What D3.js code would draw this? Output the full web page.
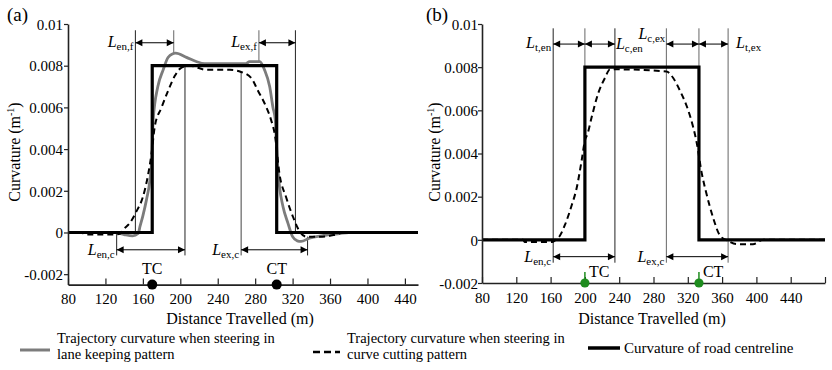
<!DOCTYPE html>
<html>
<head>
<meta charset="utf-8">
<script src="https://cdn.jsdelivr.net/npm/d3@7"></script>
<style>
  body { margin: 0; background: #fff; }
  svg, svg text { font-family: "Liberation Serif", "Tinos", "DejaVu Serif", "Noto Serif", "Times New Roman", serif; fill: #000; }
</style>
</head>
<body>
<svg id="chart" width="832" height="370"></svg>
<script>
const SERIF = '"Liberation Serif", "Tinos", "DejaVu Serif", "Noto Serif", "Times New Roman", serif';

// ---- axis ticks ----
const distTicksA = [80, 120, 160, 200, 240, 280, 320, 360, 400, 440];
const distTicksB = [80, 120, 160, 200, 240, 280, 320, 360, 400, 440, 480];
const distTickLabels = ["80", "120", "160", "200", "240", "280", "320", "360", "400", "440", ""];
const curvTicks = [-0.002, 0, 0.002, 0.004, 0.006, 0.008, 0.01];
const curvTickLabels = ["-0.002", "0", "0.002", "0.004", "0.006", "0.008", "0.01"];

// ---- panel (a): road centreline (m, 1/m) ----
const roadA_s = [80, 170, 170, 303, 303, 454];
const roadA_k = [0, 0, 0.008, 0.008, 0, 0];

// lane keeping trajectory curvature
const laneA_s = [80, 130, 140, 149, 155, 157, 160, 164, 167.5, 169.5, 171, 176, 181.7, 187, 195, 206.6, 217, 226, 250, 270, 274, 285, 290, 295.5, 299, 301.5, 302.6, 304.4, 306, 309.7, 315, 320, 325, 329, 338, 352, 370, 380, 454];
const laneA_k = [0, 0, -0.0001, -0.00016, -0.00005, 0.0003, 0.0008, 0.0016, 0.0025, 0.0035, 0.0054, 0.007, 0.0078, 0.0084, 0.0086, 0.0084, 0.0082, 0.0081, 0.0081, 0.0081, 0.0082, 0.0082, 0.0078, 0.007, 0.006, 0.0054, 0.0044, 0.003, 0.0022, 0.00125, 0.00045, -0.0002, -0.0004, -0.00043, -0.00027, -0.00015, -0.00005, 0, 0];

// curve cutting trajectory curvature
const cutA_s = [80, 95, 98, 130, 136, 139, 146, 153, 160, 165.7, 169.3, 172.8, 180, 187, 194, 201, 210, 228, 253, 265, 276, 283, 290, 297, 301, 306, 313, 320, 327.5, 334.6, 352, 366, 375, 454];
const cutA_k = [0, 0, -0.0001, -0.0001, -0.00005, 0.00013, 0.00045, 0.001, 0.0017, 0.0028, 0.0038, 0.0051, 0.006, 0.0068, 0.0075, 0.0079, 0.008, 0.0078, 0.0078, 0.0077, 0.0074, 0.0068, 0.0062, 0.0054, 0.0047, 0.0028, 0.0017, 0.0008, 0.00005, -0.0002, -0.0002, -0.0001, 0, 0];

// reference lines: distance, upper and lower curvature
const guideA_s = [152, 193, 205, 265, 284, 323, 132, 336];
const guideA_top = [0.0097, 0.0097, 0.008, 0.0077, 0.0097, 0.0097, 0, -0.0002];
const guideA_bot = [0, 0.0086, -0.0011, -0.0011, 0.0082, 0, -0.0011, -0.0011];

// dimension arrows
const arrowA_from = [152, 284, 132, 265];
const arrowA_to = [193, 323, 205, 336];
const arrowA_k = [0.0091, 0.0091, -0.00083, -0.00083];
const arrowA_sub = ["en,f", "ex,f", "en,c", "ex,c"];

// curve points
const pointA_s = [170, 303];
const pointLabels = ["TC", "CT"];

// ---- panel (b) ----
const roadB_s = [80, 200, 200, 333, 333, 480];
const roadB_k = [0, 0, 0.008, 0.008, 0, 0];

const cutB_s = [80, 128, 130, 162, 166, 171, 176.8, 184.6, 190.4, 196.3, 200, 203, 208, 215.6, 223.4, 229.3, 235, 295, 303, 311, 318.7, 326.4, 330.4, 336.2, 342, 349.7, 357.5, 367, 377, 396, 408, 480];
const cutB_k = [0, 0, -0.0001, -0.0001, 0, 0.0002, 0.0007, 0.0016, 0.0024, 0.0037, 0.0046, 0.0049, 0.0057, 0.0068, 0.0075, 0.0079, 0.0079, 0.0078, 0.0075, 0.0069, 0.0062, 0.0052, 0.0045, 0.0031, 0.0021, 0.001, 0.0002, -0.00005, -0.0002, -0.0002, 0, 0];

const guideB_s = [163, 200, 235, 295, 333, 367];
const guideB_top = [0.0098, 0.0098, 0.0098, 0.0098, 0.0098, 0.0098];
const guideB_bot = [-0.00106, 0.008, -0.00106, -0.00106, 0.008, -0.00106];

const arrowB_from = [163, 200, 295, 333, 163, 295];
const arrowB_to = [200, 235, 333, 367, 235, 367];
const arrowB_k = [0.00907, 0.00907, 0.00907, 0.00907, -0.00078, -0.00078];
const arrowB_sub = ["t,en", "c,en", "c,ex", "t,ex", "en,c", "ex,c"];

const pointB_s = [200, 333];

// legend
const legendLine1 = ["Trajectory  curvature when steering in", "Trajectory curvature when  steering in", "Curvature of road centreline"];
const legendLine2 = ["lane keeping pattern", "curve cutting pattern", ""];

// ---------------------------------------------------------------
const svg = d3.select("#chart");
const zip = (a, b) => a.map((v, i) => [v, b[i]]);

function drawPanel(cfg) {
  const g = svg.append("g");
  const x = d3.scaleLinear().domain(cfg.xDomain).range(cfg.xRange);
  const y = d3.scaleLinear().domain(cfg.yDomain).range(cfg.yRange);

  // thin reference lines
  g.selectAll("line.guide").data(cfg.guideS).join("line")
    .attr("class", "guide")
    .attr("x1", d => x(d)).attr("x2", d => x(d))
    .attr("y1", (d, i) => y(cfg.guideTop[i]))
    .attr("y2", (d, i) => y(cfg.guideBot[i]))
    .attr("stroke", (d, i) => cfg.guideColor[i])
    .attr("stroke-width", 1);

  const line = d3.line().x(d => x(d[0])).y(d => y(d[1]));
  const smooth = d3.line().x(d => x(d[0])).y(d => y(d[1])).curve(d3.curveMonotoneX);

  if (cfg.lane) {
    g.append("path").datum(zip(cfg.lane[0], cfg.lane[1]))
      .attr("d", smooth).attr("fill", "none")
      .attr("stroke", "#7c7c7c").attr("stroke-width", 2.8)
      .attr("stroke-linejoin", "round");
  }
  g.append("path").datum(zip(cfg.cut[0], cfg.cut[1]))
    .attr("d", smooth).attr("fill", "none")
    .attr("stroke", "#000").attr("stroke-width", 2)
    .attr("stroke-dasharray", "6,4");
  g.append("path").datum(zip(cfg.road[0], cfg.road[1]))
    .attr("d", line).attr("fill", "none")
    .attr("stroke", "#000").attr("stroke-width", 3.2)
    .attr("stroke-linejoin", "miter");

  // axes
  const yAxis = d3.axisLeft(y).tickValues(curvTicks)
    .tickFormat((d, i) => curvTickLabels[i])
    .tickSize(4).tickSizeOuter(0).tickPadding(cfg.yPad);
  const ya = g.append("g").attr("transform", `translate(${cfg.xRange[0]},0)`).call(yAxis);

  const xAxis = d3.axisBottom(x).tickValues(cfg.xTicks)
    .tickFormat((d, i) => distTickLabels[i])
    .tickSizeInner(-6).tickSizeOuter(0).tickPadding(9);
  const xa = g.append("g").attr("transform", `translate(0,${cfg.yRange[0]})`).call(xAxis);

  [ya, xa].forEach(a => {
    a.attr("font-family", SERIF).attr("font-size", 15);
    a.select(".domain").attr("stroke", "#222").attr("stroke-width", 1.6);
    a.selectAll(".tick line").attr("stroke", "#222").attr("stroke-width", 1.2);
    a.selectAll(".tick text").attr("font-size", 15).style("font-family", SERIF);
  });
  ya.selectAll(".tick text").attr("dy", "0.35em");

  // dimension arrows
  const ah = 7, aw = 3.5;
  cfg.arrowFrom.forEach((s0, i) => {
    const x0 = x(s0), x1 = x(cfg.arrowTo[i]), yy = y(cfg.arrowK[i]);
    g.append("line").attr("x1", x0).attr("x2", x1).attr("y1", yy).attr("y2", yy)
      .attr("stroke", "#000").attr("stroke-width", 1);
    g.append("path")
      .attr("d", `M${x0},${yy}L${x0 + ah},${yy - aw}L${x0 + ah},${yy + aw}Z M${x1},${yy}L${x1 - ah},${yy - aw}L${x1 - ah},${yy + aw}Z`)
      .attr("fill", "#000");
    const lp = cfg.labelPos[i];
    const t = g.append("text")
      .attr("x", lp.side === "left" ? x0 - 2 + (lp.dx || 0) : x1 + lp.dx)
      .attr("y", yy + lp.dy)
      .attr("text-anchor", lp.side === "left" ? "end" : "start")
      .style("font-family", SERIF);
    t.append("tspan").attr("font-style", "italic").attr("font-size", 16).text("L");
    t.append("tspan").attr("font-size", 11).attr("dy", 3).text(cfg.arrowSub[i]);
  });

  // curve point markers
  cfg.pointS.forEach((s, i) => {
    const px = x(s), py = cfg.yRange[0];
    if (cfg.green) {
      g.append("line").attr("x1", px).attr("x2", px).attr("y1", py - 11).attr("y2", py)
        .attr("stroke", "#1e8c1e").attr("stroke-width", 1.5);
      g.append("circle").attr("cx", px).attr("cy", py).attr("r", 4.6).attr("fill", "#1e8c1e");
      g.append("text").attr("x", px + 4).attr("y", py - 6).attr("font-size", 16)
        .style("font-family", SERIF).text(pointLabels[i]);
    } else {
      g.append("circle").attr("cx", px).attr("cy", py).attr("r", 5).attr("fill", "#000");
      g.append("text").attr("x", px).attr("y", py - 11).attr("font-size", 16)
        .style("font-family", SERIF)
        .attr("text-anchor", "middle").text(pointLabels[i]);
    }
  });

  // titles
  g.append("text").attr("x", cfg.tagX).attr("y", 21).attr("font-size", 19)
    .style("font-family", SERIF).text(cfg.tag);
  const yt = g.append("text")
    .attr("transform", `translate(${cfg.yTitleX},152) rotate(-90)`)
    .attr("text-anchor", "middle").attr("font-size", 16).style("font-family", SERIF);
  yt.append("tspan").text("Curvature  (m");
  yt.append("tspan").attr("font-size", 10).attr("dy", -6).text("-1");
  yt.append("tspan").attr("dy", 6).text(")");
  g.append("text").attr("x", cfg.xTitleX).attr("y", 324).attr("text-anchor", "middle")
    .attr("font-size", 16).style("font-family", SERIF).text("Distance Travelled  (m)");
}

drawPanel({
  tag: "(a)", tagX: 7, yTitleX: 20, xTitleX: 240,
  xDomain: [80, 454], xRange: [68, 418],
  yDomain: [-0.0025, 0.01], yRange: [284.6, 24], yPad: 1,
  xTicks: distTicksA,
  road: [roadA_s, roadA_k], lane: [laneA_s, laneA_k], cut: [cutA_s, cutA_k],
  guideS: guideA_s, guideTop: guideA_top, guideBot: guideA_bot,
  guideColor: ["#222", "#666", "#222", "#444", "#666", "#222", "#222", "#222"],
  arrowFrom: arrowA_from, arrowTo: arrowA_to, arrowK: arrowA_k, arrowSub: arrowA_sub,
  labelPos: [
    { side: "left", dy: 4 }, { side: "left", dy: 4 },
    { side: "left", dy: 5 }, { side: "left", dy: 5 }
  ],
  pointS: pointA_s, green: false
});

drawPanel({
  tag: "(b)", tagX: 426, yTitleX: 440, xTitleX: 652,
  xDomain: [80, 480], xRange: [482, 825],
  yDomain: [-0.002, 0.01], yRange: [283, 24], yPad: 0,
  xTicks: distTicksB,
  road: [roadB_s, roadB_k], lane: null, cut: [cutB_s, cutB_k],
  guideS: guideB_s, guideTop: guideB_top, guideBot: guideB_bot,
  guideColor: ["#222", "#666", "#222", "#666", "#666", "#666"],
  arrowFrom: arrowB_from, arrowTo: arrowB_to, arrowK: arrowB_k, arrowSub: arrowB_sub,
  labelPos: [
    { side: "left", dy: 4 },
    { side: "right", dx: 1, dy: 5 },
    { side: "left", dx: 1, dy: -5 },
    { side: "right", dx: 8, dy: 4 },
    { side: "left", dy: 5 },
    { side: "left", dy: 5 }
  ],
  pointS: pointB_s, green: true
});

// ---- legend ----
const legend = svg.append("g").style("font-family", SERIF);
const legX = [20, 313, 588];
const legW = [30, 27, 32];
const legY = [350, 352, 348];
legX.forEach((lx, i) => {
  const ln = legend.append("line")
    .attr("x1", lx).attr("x2", lx + legW[i]).attr("y1", legY[i]).attr("y2", legY[i]);
  if (i === 0) ln.attr("stroke", "#7c7c7c").attr("stroke-width", 3);
  if (i === 1) ln.attr("stroke", "#000").attr("stroke-width", 2.5).attr("stroke-dasharray", "7,4");
  if (i === 2) ln.attr("stroke", "#000").attr("stroke-width", 3.5);
  const tx = lx + legW[i] + (i === 2 ? 4 : 7);
  if (legendLine2[i]) {
    legend.append("text").attr("x", tx).attr("y", 343).attr("font-size", 14.5).text(legendLine1[i]);
    legend.append("text").attr("x", tx).attr("y", 359).attr("font-size", 14.5).text(legendLine2[i]);
  } else {
    legend.append("text").attr("x", tx).attr("y", 353).attr("font-size", 15).text(legendLine1[i]);
  }
});
</script>
</body>
</html>
